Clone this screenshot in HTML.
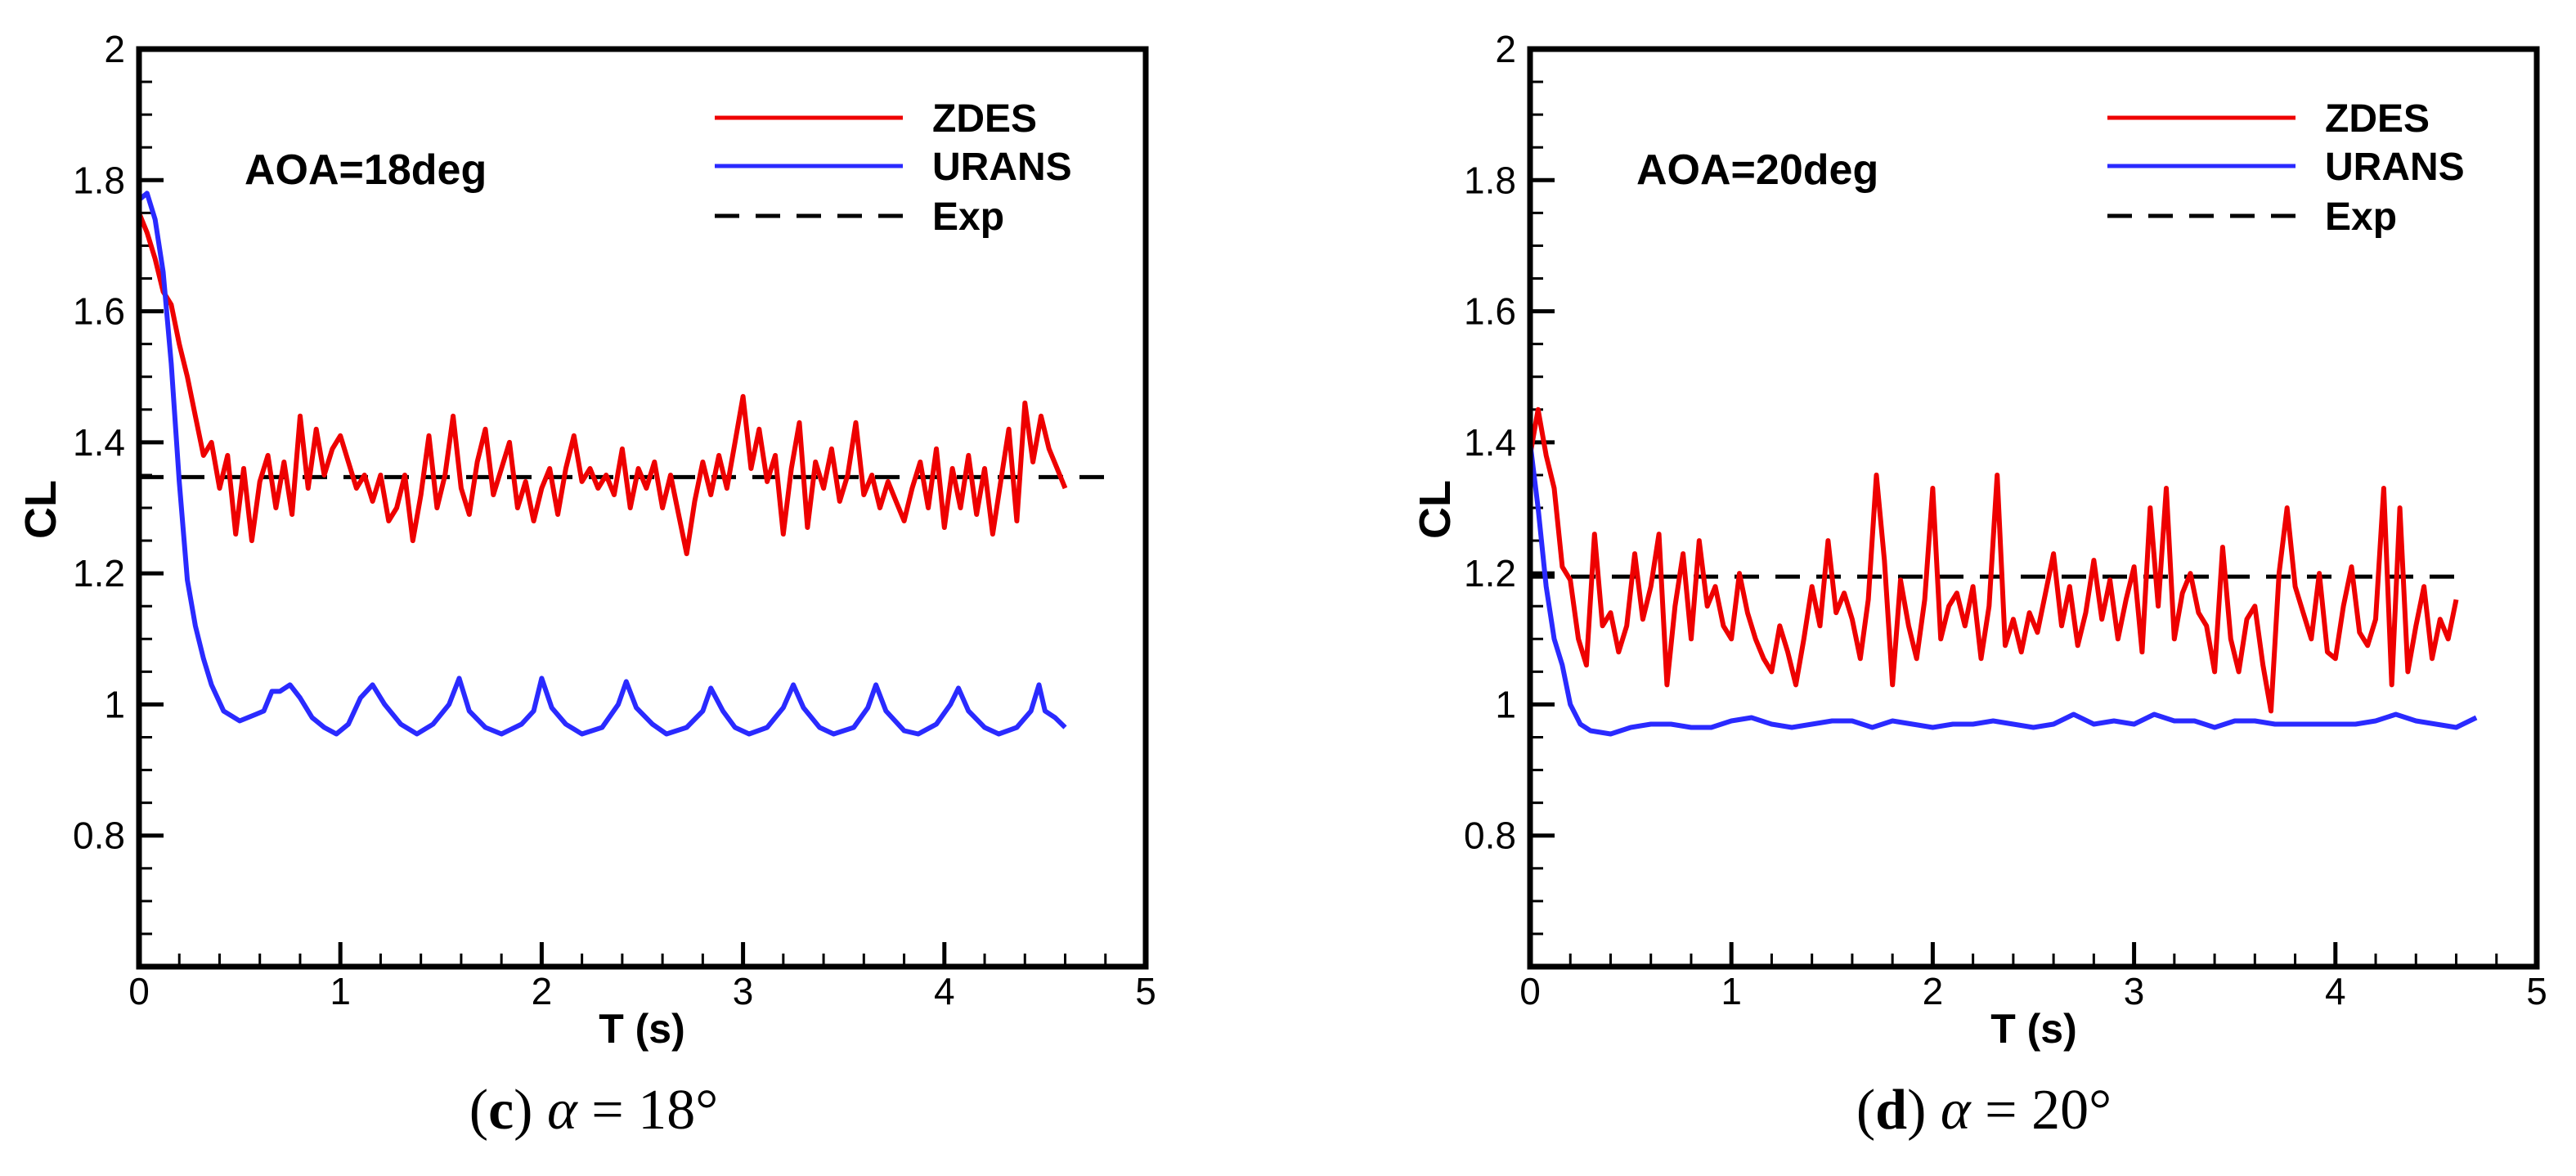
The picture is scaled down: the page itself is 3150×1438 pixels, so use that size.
<!DOCTYPE html>
<html><head><meta charset="utf-8"><style>
html,body{margin:0;padding:0;background:#fff}
svg{display:block}
</style></head><body>
<svg id="fig" width="3150" height="1438" viewBox="0 0 3150 1438" xmlns="http://www.w3.org/2000/svg" font-family="Liberation Sans, sans-serif"></svg>
<script>
const xTicks=[0,1,2,3,4,5];
const yTicks=[0.8,1,1.2,1.4,1.6,1.8,2];
const yTickLabels=["0.8","1","1.2","1.4","1.6","1.8","2"];
const zdesStep=0.04;
const zdes18=[1.75,1.72,1.68,1.63,1.61,1.55,1.50,1.44,1.38,1.40,1.33,1.38,1.26,1.36,1.25,1.34,1.38,1.30,1.37,1.29,1.44,1.33,1.42,1.35,1.39,1.41,1.37,1.33,1.35,1.31,1.35,1.28,1.30,1.35,1.25,1.32,1.41,1.30,1.35,1.44,1.33,1.29,1.37,1.42,1.32,1.36,1.40,1.30,1.34,1.28,1.33,1.36,1.29,1.36,1.41,1.34,1.36,1.33,1.35,1.32,1.39,1.30,1.36,1.33,1.37,1.30,1.35,1.29,1.23,1.31,1.37,1.32,1.38,1.33,1.40,1.47,1.36,1.42,1.34,1.38,1.26,1.36,1.43,1.27,1.37,1.33,1.39,1.31,1.35,1.43,1.32,1.35,1.30,1.34,1.31,1.28,1.33,1.37,1.30,1.39,1.27,1.36,1.30,1.38,1.29,1.36,1.26,1.34,1.42,1.28,1.46,1.37,1.44,1.39,1.36,1.33];
const urans18T=[0,0.04,0.08,0.12,0.16,0.2,0.24,0.28,0.32,0.36,0.42,0.5,0.58,0.62,0.66,0.7,0.75,0.8,0.86,0.92,0.98,1.04,1.1,1.16,1.22,1.3,1.38,1.46,1.54,1.59,1.64,1.72,1.8,1.9,1.96,2.0,2.05,2.12,2.2,2.3,2.38,2.42,2.47,2.55,2.62,2.72,2.8,2.84,2.9,2.96,3.03,3.12,3.2,3.25,3.3,3.38,3.45,3.55,3.62,3.66,3.71,3.8,3.87,3.96,4.03,4.07,4.12,4.2,4.27,4.36,4.43,4.47,4.5,4.55,4.6];
const urans18V=[1.77,1.78,1.74,1.66,1.52,1.34,1.19,1.12,1.07,1.03,0.99,0.975,0.985,0.99,1.02,1.02,1.03,1.01,0.98,0.965,0.955,0.97,1.01,1.03,1.00,0.97,0.955,0.97,1.0,1.04,0.99,0.965,0.955,0.97,0.99,1.04,0.995,0.97,0.955,0.965,1.0,1.035,0.995,0.97,0.955,0.965,0.99,1.025,0.99,0.965,0.955,0.965,0.995,1.03,0.995,0.965,0.955,0.965,0.995,1.03,0.99,0.96,0.955,0.97,1.0,1.025,0.99,0.965,0.955,0.965,0.99,1.03,0.99,0.98,0.965];
const exp18=1.347, exp18End=4.8;
const zdes20=[1.38,1.45,1.38,1.33,1.21,1.19,1.10,1.06,1.26,1.12,1.14,1.08,1.12,1.23,1.13,1.18,1.26,1.03,1.15,1.23,1.10,1.25,1.15,1.18,1.12,1.10,1.20,1.14,1.10,1.07,1.05,1.12,1.08,1.03,1.10,1.18,1.12,1.25,1.14,1.17,1.13,1.07,1.16,1.35,1.22,1.03,1.19,1.12,1.07,1.16,1.33,1.10,1.15,1.17,1.12,1.18,1.07,1.15,1.35,1.09,1.13,1.08,1.14,1.11,1.17,1.23,1.12,1.18,1.09,1.14,1.22,1.13,1.19,1.10,1.16,1.21,1.08,1.30,1.15,1.33,1.10,1.17,1.20,1.14,1.12,1.05,1.24,1.10,1.05,1.13,1.15,1.06,0.99,1.20,1.30,1.18,1.14,1.10,1.20,1.08,1.07,1.15,1.21,1.11,1.09,1.13,1.33,1.03,1.30,1.05,1.12,1.18,1.07,1.13,1.10,1.16];
const urans20T=[0,0.04,0.08,0.12,0.16,0.2,0.25,0.3,0.4,0.5,0.6,0.7,0.8,0.9,1.0,1.1,1.2,1.3,1.4,1.5,1.6,1.7,1.8,1.9,2.0,2.1,2.2,2.3,2.4,2.5,2.6,2.7,2.8,2.9,3.0,3.1,3.2,3.3,3.4,3.5,3.6,3.7,3.8,3.9,4.0,4.1,4.2,4.3,4.4,4.5,4.6,4.7];
const urans20V=[1.40,1.30,1.18,1.10,1.06,1.00,0.97,0.96,0.955,0.965,0.97,0.97,0.965,0.965,0.975,0.98,0.97,0.965,0.97,0.975,0.975,0.965,0.975,0.97,0.965,0.97,0.97,0.975,0.97,0.965,0.97,0.985,0.97,0.975,0.97,0.985,0.975,0.975,0.965,0.975,0.975,0.97,0.97,0.97,0.97,0.97,0.975,0.985,0.975,0.97,0.965,0.98];
const exp20=1.195, exp20End=4.6;

const NS='http://www.w3.org/2000/svg';
const svg=document.getElementById('fig');
function mk(tag,attrs,parent){const e=document.createElementNS(NS,tag);for(const k in attrs)e.setAttribute(k,attrs[k]);(parent||svg).appendChild(e);return e;}

function panel(cfg){
  const L=cfg.x0,R=cfg.x0+1231,T=60,B=1182;
  const xs=t=>L+t/5*(R-L);
  const ys=v=>B-(v-0.6)/1.4*(B-T);
  const g=mk('g',{});
  
  
  for(let v=0.65;v<2;v+=0.05){const y=ys(v);const big=Math.abs((v*5)-Math.round(v*5))<1e-6;
    const t=mk('line',{x1:L,x2:L+(big?30:16),y1:y,y2:y,stroke:'#000','stroke-width':big?5:3},g);
    }
  for(let t=0.2;t<5;t+=0.2){const x=xs(t);const big=Math.abs(t-Math.round(t))<1e-6;
    const k=mk('line',{x1:x,x2:x,y1:B,y2:B-(big?30:16),stroke:'#000','stroke-width':big?5:3},g);
    }
  yTicks.forEach((v,i)=>{const tx=mk('text',{x:L-17,y:ys(v)+16,'text-anchor':'end','font-size':46},g);tx.textContent=yTickLabels[i];
    });
  xTicks.forEach(v=>{const tx=mk('text',{x:xs(v),y:1228,'text-anchor':'middle','font-size':46},g);tx.textContent=String(v);
    });
  const ex=mk('line',{x1:xs(0),x2:xs(cfg.expEnd),y1:ys(cfg.exp),y2:ys(cfg.exp),stroke:'#000','stroke-width':5,'stroke-dasharray':'30 20'},g);
  
  let d='';cfg.zdes.forEach((v,i)=>{d+=(i?'L':'M')+xs(i*zdesStep).toFixed(1)+' '+ys(v).toFixed(1);});
  const zp=mk('path',{d:d,fill:'none',stroke:'#ee0000','stroke-width':6,'stroke-linejoin':'round'},g);
  
  d='';cfg.ut.forEach((t,i)=>{d+=(i?'L':'M')+xs(t).toFixed(1)+' '+ys(cfg.uv[i]).toFixed(1);});
  const up=mk('path',{d:d,fill:'none',stroke:'#2a2aff','stroke-width':6,'stroke-linejoin':'round'},g);
  
  const fr=mk('rect',{x:L,y:T,width:R-L,height:B-T,fill:'none',stroke:'#000','stroke-width':7},g);
  
  const an=mk('text',{x:cfg.aoaX,y:225,'font-size':52,'font-weight':'bold'},g);an.textContent=cfg.aoa;
  
  const lg=mk('g',{},g);
  const items=[['ZDES','#ee0000',null,144],['URANS','#2a2aff',null,203],['Exp','#000','30 20',264]];
  items.forEach(it=>{
    const ln=mk('line',{x1:cfg.legX,x2:cfg.legX+230,y1:it[3],y2:it[3],stroke:it[1],'stroke-width':5},lg);
    if(it[2])ln.setAttribute('stroke-dasharray',it[2]);
    
    const tx=mk('text',{x:cfg.legX+266,y:it[3]+17,'font-size':48,'font-weight':'bold'},lg);tx.textContent=it[0];
    
  });
  const yt=mk('text',{x:0,y:0,'font-size':54,'font-weight':'bold','text-anchor':'middle',transform:`translate(${cfg.clX},623) rotate(-90)`},g);yt.textContent='CL';
  
  const xt=mk('text',{x:cfg.tX,y:1275,'font-size':50,'font-weight':'bold','text-anchor':'middle'},g);xt.textContent='T (s)';
  
  const cap=mk('text',{x:cfg.capX,y:1380,'font-size':70,'text-anchor':'middle','font-family':'Liberation Serif, serif'},g);
  
  cap.innerHTML='(<tspan font-weight="bold">'+cfg.cap[0]+'</tspan>) <tspan font-style="italic">α</tspan> = '+cfg.cap[1]+'°';
}
panel({name:'chart-aoa-18',x0:170,zdes:zdes18,ut:urans18T,uv:urans18V,exp:exp18,expEnd:exp18End,aoa:'AOA=18deg',aoaX:299,legX:874,clX:68,tX:785,capX:726,cap:['c','18']});
panel({name:'chart-aoa-20',x0:1871,zdes:zdes20,ut:urans20T,uv:urans20V,exp:exp20,expEnd:exp20End,aoa:'AOA=20deg',aoaX:2001,legX:2577,clX:1773,tX:2487,capX:2426,cap:['d','20']});
</script>
</body></html>
